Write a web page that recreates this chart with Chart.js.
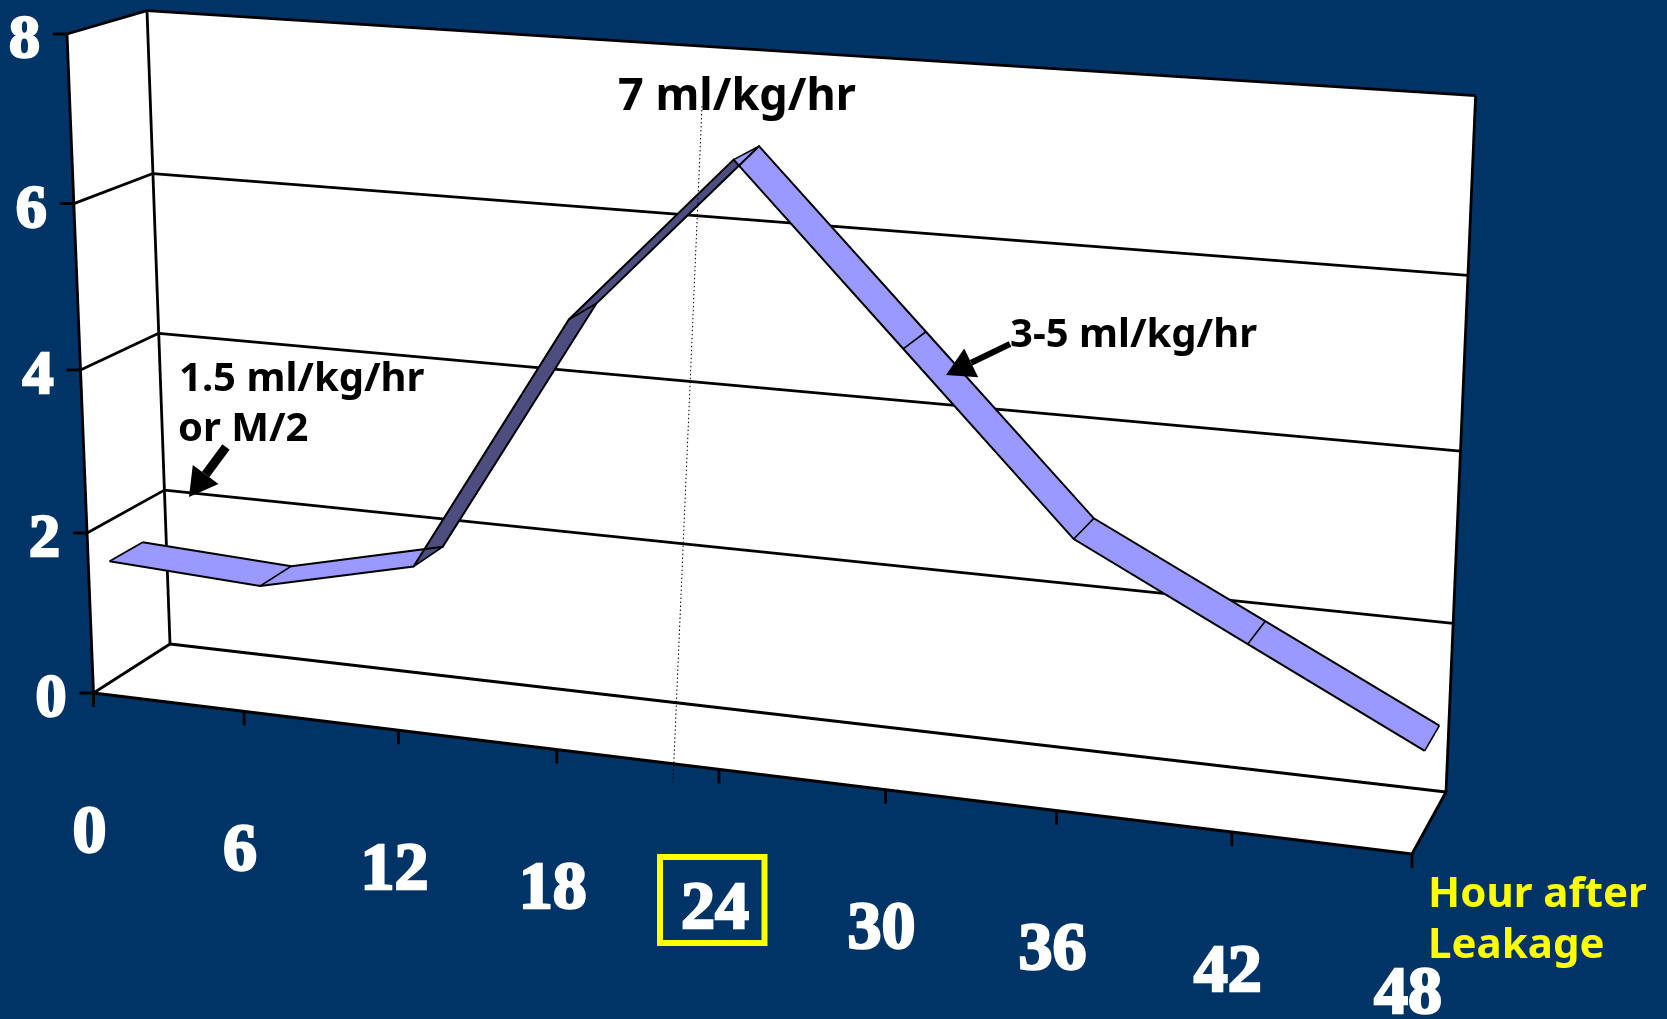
<!DOCTYPE html>
<html>
<head>
<meta charset="utf-8">
<title>Fluid rate after leakage</title>
<script src="https://cdn.jsdelivr.net/npm/chart.js@4"></script>
<style>
    html, body { margin: 0; padding: 0; background: #003366; overflow: hidden; }
    #chartBox { position: relative; width: 1667px; height: 1019px; }
</style>
</head>
<body>
<div id="chartBox"><canvas id="fluidChart"></canvas></div>
<script>
// Fluid rate (ml/kg/hr) by hour after leakage
const hours = [0, 6, 12, 18, 24, 30, 36, 42, 48];
const rates = [1.5, 1.4, 1.85, 5, 7, 5, 3, 2, 1];
const hourTicks = [0, 6, 12, 18, 24, 30, 36, 42, 48];
const rateTicks = [0, 2, 4, 6, 8];

// Screen corners of the box: bottom-left, bottom-right, top-right, top-left
const frontPlane = [[93.5, 693], [1412, 854], [1441, 128], [67, 34]];
const backPlane = [[170, 644], [1446, 792], [1475.6, 95.7], [147, 10.6]];

// Depth of the ribbon edges inside the box, 0 = front, 1 = back
const ribbonFront = 0.27;
const ribbonBack = 0.7;

const RIBBON_TOP = '#9999ff';
const RIBBON_UNDER = '#4d4d80';
const YELLOW = '#ffff00';
const NOTE_FAMILY = '"Noto Sans"';

// Homography from the unit square to a quad
function squareToQuad(q) {
    const [x0, y0] = q[0], [x1, y1] = q[1], [x2, y2] = q[2], [x3, y3] = q[3];
    const dx1 = x1 - x2, dx2 = x3 - x2, sx = x0 - x1 + x2 - x3;
    const dy1 = y1 - y2, dy2 = y3 - y2, sy = y0 - y1 + y2 - y3;
    const det = dx1 * dy2 - dx2 * dy1;
    const g = (sx * dy2 - dx2 * sy) / det;
    const h = (dx1 * sy - sx * dy1) / det;
    return {
        a: x1 - x0 + g * x1, b: x3 - x0 + h * x3, c: x0,
        d: y1 - y0 + g * y1, e: y3 - y0 + h * y3, f: y0,
        g: g, h: h
    };
}

const frontMap = squareToQuad(frontPlane);
const backMap = squareToQuad(backPlane);

function applyMap(m, u, v) {
    const w = m.g * u + m.h * v + 1;
    return { x: (m.a * u + m.b * v + m.c) / w, y: (m.d * u + m.e * v + m.f) / w };
}

// Takes scale pixels and a depth, returns the position on screen
function project(chart, px, py, depth) {
    const area = chart.chartArea;
    const u = (px - area.left) / area.width;
    const v = (area.bottom - py) / area.height;
    const f = applyMap(frontMap, u, v);
    const b = applyMap(backMap, u, v);
    return { x: f.x + (b.x - f.x) * depth, y: f.y + (b.y - f.y) * depth };
}

function boxPoint(chart, hour, rate, depth) {
    const s = chart.scales;
    return project(chart, s.x.getPixelForValue(hour), s.y.getPixelForValue(rate), depth);
}

function strokeSegment(ctx, a, b) {
    ctx.beginPath();
    ctx.moveTo(a.x, a.y);
    ctx.lineTo(b.x, b.y);
    ctx.stroke();
}

function drawArrow(ctx, fromX, fromY, toX, toY, width) {
    const angle = Math.atan2(toY - fromY, toX - fromX);
    const headLen = 28, headWide = 16;
    const baseX = toX - Math.cos(angle) * headLen;
    const baseY = toY - Math.sin(angle) * headLen;
    ctx.strokeStyle = '#000';
    ctx.fillStyle = '#000';
    ctx.lineWidth = width;
    ctx.beginPath();
    ctx.moveTo(fromX, fromY);
    ctx.lineTo(baseX, baseY);
    ctx.stroke();
    ctx.beginPath();
    ctx.moveTo(toX, toY);
    ctx.lineTo(baseX - Math.sin(angle) * headWide, baseY + Math.cos(angle) * headWide);
    ctx.lineTo(baseX + Math.sin(angle) * headWide, baseY - Math.cos(angle) * headWide);
    ctx.closePath();
    ctx.fill();
}

function drawBox(chart) {
    const ctx = chart.ctx;
    const lastHour = hourTicks[hourTicks.length - 1];
    const topRate = rateTicks[rateTicks.length - 1];
    const outline = [
        boxPoint(chart, 0, topRate, 0), boxPoint(chart, 0, topRate, 1),
        boxPoint(chart, lastHour, topRate, 1), boxPoint(chart, lastHour, 0, 1),
        boxPoint(chart, lastHour, 0, 0), boxPoint(chart, 0, 0, 0)
    ];
    ctx.fillStyle = '#ffffff';
    ctx.beginPath();
    outline.forEach((p, i) => i ? ctx.lineTo(p.x, p.y) : ctx.moveTo(p.x, p.y));
    ctx.closePath();
    ctx.fill();

    ctx.strokeStyle = '#000';
    ctx.lineWidth = 2.8;

    // Rate gridlines run along the left wall then the back wall
    chart.scales.y.ticks.forEach(tick => {
        const corner = boxPoint(chart, 0, tick.value, 1);
        const front = boxPoint(chart, 0, tick.value, 0);
        strokeSegment(ctx, front, corner);
        strokeSegment(ctx, corner, boxPoint(chart, lastHour, tick.value, 1));
        strokeSegment(ctx, front, { x: front.x - 14, y: front.y });
    });

    strokeSegment(ctx, boxPoint(chart, 0, 0, 0), boxPoint(chart, 0, topRate, 0));
    strokeSegment(ctx, boxPoint(chart, 0, 0, 1), boxPoint(chart, 0, topRate, 1));
    strokeSegment(ctx, boxPoint(chart, lastHour, 0, 1), boxPoint(chart, lastHour, topRate, 1));
    strokeSegment(ctx, boxPoint(chart, 0, 0, 0), boxPoint(chart, lastHour, 0, 0));
    strokeSegment(ctx, boxPoint(chart, lastHour, 0, 0), boxPoint(chart, lastHour, 0, 1));

    chart.scales.x.ticks.forEach(tick => {
        const p = boxPoint(chart, tick.value, 0, 0);
        strokeSegment(ctx, p, { x: p.x, y: p.y + 14 });
    });
}

// Fills the strip between the two edge datasets, one quad per interval
function drawRibbon(chart) {
    const ctx = chart.ctx;
    const front = chart.getDatasetMeta(0).data;
    const back = chart.getDatasetMeta(1).data;
    for (let i = 0; i < rates.length - 1; i++) {
        const rising = rates[i + 1] - rates[i] > 1;
        ctx.fillStyle = rising ? RIBBON_UNDER : RIBBON_TOP;
        ctx.beginPath();
        ctx.moveTo(front[i].x, front[i].y);
        ctx.lineTo(front[i + 1].x, front[i + 1].y);
        ctx.lineTo(back[i + 1].x, back[i + 1].y);
        ctx.lineTo(back[i].x, back[i].y);
        ctx.closePath();
        ctx.fill();
    }
    ctx.strokeStyle = '#000';
    ctx.lineWidth = 1.6;
    front.forEach((p, i) => strokeSegment(ctx, p, back[i]));
}

function drawTickLabels(chart) {
    const ctx = chart.ctx;
    ctx.fillStyle = '#ffffff';
    ctx.strokeStyle = '#ffffff';
    ctx.lineWidth = 2.5;
    ctx.textBaseline = 'middle';

    ctx.font = 'bold 62px "Liberation Serif"';
    ctx.textAlign = 'right';
    chart.scales.y.ticks.forEach(tick => {
        const p = boxPoint(chart, 0, tick.value, 0);
        ctx.fillText(String(tick.value), p.x - 27, p.y + 7);
        ctx.strokeText(String(tick.value), p.x - 27, p.y + 7);
    });

    ctx.font = 'bold 68px "Liberation Serif"';
    ctx.textAlign = 'center';
    chart.scales.x.ticks.forEach(tick => {
        const p = boxPoint(chart, tick.value, 0, 0);
        ctx.fillText(String(tick.value), p.x - 4, p.y + 141);
        ctx.strokeText(String(tick.value), p.x - 4, p.y + 141);
    });
}

function drawNotes(chart) {
    const ctx = chart.ctx;

    // Dotted drop line through the peak hour
    ctx.strokeStyle = '#000';
    ctx.lineWidth = 1;
    ctx.setLineDash([1.5, 2.5]);
    strokeSegment(ctx, { x: 702, y: 106 }, { x: 673, y: 782 });
    ctx.setLineDash([]);

    ctx.fillStyle = '#000';
    ctx.textAlign = 'left';
    ctx.textBaseline = 'alphabetic';
    ctx.font = 'bold 45px ' + NOTE_FAMILY;
    ctx.fillText('7 ml/kg/hr', 618, 110);
    ctx.font = 'bold 40px ' + NOTE_FAMILY;
    ctx.fillText('1.5 ml/kg/hr', 179, 391);
    ctx.fillText('or M/2', 178, 441);
    ctx.fillText('3-5 ml/kg/hr', 1010, 347);

    drawArrow(ctx, 226, 447, 189, 497, 9);
    drawArrow(ctx, 1010, 344, 946, 375, 6);

    ctx.font = 'bold 42px ' + NOTE_FAMILY;
    ctx.fillStyle = YELLOW;
    ctx.fillText('Hour after', 1428, 907);
    ctx.fillText('Leakage', 1428, 958);

    ctx.strokeStyle = YELLOW;
    ctx.lineWidth = 6;
    ctx.strokeRect(660, 857, 104.5, 86);
}

const boxPlugin = {
    id: 'perspectiveBox',
    // The line elements get their scale pixels first, then move onto the box
    afterDatasetsUpdate(chart) {
        chart.data.datasets.forEach((ds, i) => {
            chart.getDatasetMeta(i).data.forEach(pt => {
                const p = project(chart, pt.x, pt.y, ds.depth);
                pt.x = p.x;
                pt.y = p.y;
            });
        });
    },
    beforeDatasetsDraw(chart) {
        drawBox(chart);
        drawRibbon(chart);
    },
    afterDatasetsDraw(chart) {
        drawTickLabels(chart);
        drawNotes(chart);
    }
};

function edgeDataset(label, depth) {
    return {
        label: label,
        data: hours.map((h, i) => ({ x: h, y: rates[i] })),
        depth: depth,
        borderColor: '#000',
        borderWidth: 2,
        pointRadius: 0,
        tension: 0,
        fill: false,
        clip: false
    };
}

new Chart(document.getElementById('fluidChart').getContext('2d'), {
    type: 'line',
    data: {
        datasets: [
            edgeDataset('Front edge', ribbonFront),
            edgeDataset('Back edge', ribbonBack)
        ]
    },
    options: {
        responsive: true,
        maintainAspectRatio: false,
        animation: false,
        layout: { padding: 0 },
        plugins: { legend: { display: false }, tooltip: { enabled: false } },
        scales: {
            x: {
                type: 'linear',
                min: 0,
                max: 48,
                display: false,
                afterBuildTicks: scale => { scale.ticks = hourTicks.map(v => ({ value: v })); }
            },
            y: {
                type: 'linear',
                min: 0,
                max: 8,
                display: false,
                afterBuildTicks: scale => { scale.ticks = rateTicks.map(v => ({ value: v })); }
            }
        }
    },
    plugins: [boxPlugin]
});
</script>
</body>
</html>
